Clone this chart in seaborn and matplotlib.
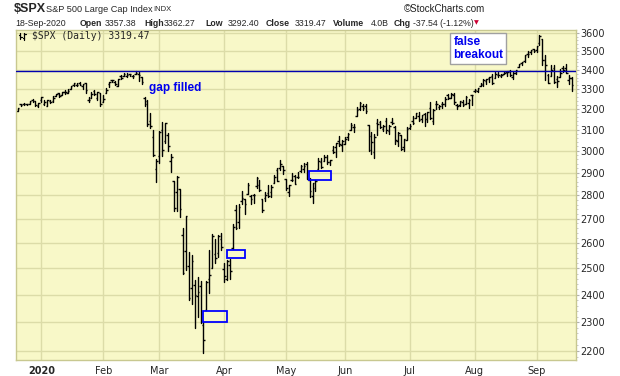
import matplotlib
matplotlib.use("Agg")
import matplotlib.pyplot as plt
from matplotlib.patches import Rectangle
from matplotlib.lines import Line2D
from matplotlib.ticker import FixedLocator, NullFormatter
import seaborn as sns
import pandas as pd
import numpy as np

# trading calendar (market holidays skipped)
holidays = ["2019-12-25", "2020-01-01", "2020-01-20", "2020-02-17",
            "2020-04-10", "2020-05-25", "2020-07-03", "2020-09-07"]
dates = pd.bdate_range("2019-12-19", "2020-09-18", freq="C", holidays=holidays)

# daily OHLC, $SPX, one row per month
opens = [
    3192.32, 3223.33, 3226.05, 3225.45, 3227.20, 3247.23, 3240.09, 3215.18,
    3244.67, 3226.36, 3217.55, 3241.86, 3238.59, 3266.03, 3281.81, 3271.13, 3285.35, 3282.27, 3302.97, 3323.66, 3321.03, 3330.02, 3315.77, 3333.10, 3247.16, 3255.35, 3289.46, 3256.45, 3282.33,
    3235.66, 3280.61, 3324.91, 3344.92, 3335.54, 3318.28, 3365.87, 3370.50, 3365.90, 3378.08, 3369.04, 3380.39, 3380.45, 3360.50, 3257.61, 3238.94, 3139.90, 3062.54, 2916.90,
    2974.28, 3096.46, 3045.75, 3075.70, 2954.20, 2863.89, 2813.48, 2825.60, 2630.86, 2569.99, 2508.59, 2425.66, 2436.50, 2393.48, 2431.94, 2290.71, 2344.44, 2457.77, 2501.29, 2555.87, 2558.98, 2614.69,
    2498.08, 2458.54, 2514.92, 2578.28, 2738.65, 2685.00, 2776.99, 2782.46, 2805.10, 2795.64, 2799.34, 2842.43, 2845.62, 2784.81, 2787.89, 2810.42, 2812.64, 2854.65, 2909.96, 2918.46, 2930.91,
    2869.09, 2815.01, 2868.88, 2883.14, 2878.26, 2908.83, 2915.46, 2939.50, 2865.86, 2794.54, 2829.95, 2913.86, 2948.59, 2953.63, 2969.95, 2948.05, 3004.08, 3015.65, 3046.61, 3025.17,
    3031.48, 3064.78, 3098.90, 3111.56, 3163.84, 3199.92, 3213.32, 3213.42, 3123.53, 3071.04, 2993.76, 3131.00, 3136.13, 3101.64, 3140.29, 3094.42, 3138.70, 3114.40, 3046.60, 3073.20, 3018.59, 3050.20,
    3105.92, 3143.64, 3155.29, 3166.44, 3153.07, 3176.17, 3152.47, 3205.08, 3141.11, 3225.98, 3208.36, 3224.21, 3224.29, 3268.52, 3254.86, 3271.64, 3218.58, 3219.84, 3234.27, 3227.22, 3231.76, 3270.45,
    3288.26, 3289.92, 3317.37, 3323.17, 3340.05, 3356.04, 3370.34, 3355.46, 3372.95, 3368.66, 3380.86, 3387.04, 3392.51, 3360.48, 3386.01, 3418.09, 3435.95, 3449.97, 3485.14, 3494.69, 3509.73,
    3507.44, 3543.76, 3564.74, 3453.60, 3371.88, 3369.82, 3412.56, 3352.70, 3363.56, 3407.73, 3411.23, 3346.86, 3357.38,
]
highs = [
    3205.48, 3225.65, 3227.78, 3226.43, 3240.08, 3247.93, 3240.92, 3231.72,
    3258.14, 3246.15, 3246.84, 3244.91, 3267.07, 3275.58, 3282.99, 3288.13, 3294.25, 3298.66, 3317.11, 3329.88, 3329.79, 3337.77, 3326.88, 3333.18, 3258.85, 3285.78, 3293.47, 3285.91, 3282.33,
    3268.44, 3306.92, 3337.58, 3347.96, 3341.42, 3352.26, 3375.63, 3381.47, 3385.09, 3380.69, 3375.01, 3393.52, 3389.15, 3360.76, 3259.81, 3246.99, 3182.51, 3097.07, 2959.72,
    3090.96, 3136.72, 3130.97, 3083.04, 2985.93, 2863.89, 2882.59, 2825.60, 2660.95, 2711.33, 2562.98, 2553.93, 2453.57, 2466.97, 2453.01, 2300.73, 2449.71, 2571.42, 2637.01, 2615.91, 2631.80, 2641.39,
    2522.75, 2533.22, 2538.18, 2676.85, 2756.89, 2760.75, 2818.57, 2782.46, 2851.85, 2801.88, 2806.51, 2879.22, 2868.98, 2785.54, 2815.10, 2844.90, 2842.71, 2887.72, 2921.15, 2954.86, 2930.91,
    2869.09, 2844.24, 2898.23, 2891.11, 2901.92, 2932.16, 2944.25, 2945.82, 2874.14, 2852.80, 2865.01, 2968.09, 2964.21, 2980.29, 2978.50, 2956.76, 3021.72, 3036.25, 3068.67, 3049.17,
    3062.18, 3081.07, 3130.94, 3128.91, 3211.72, 3233.13, 3222.71, 3223.27, 3123.53, 3088.42, 3079.76, 3153.45, 3141.16, 3120.00, 3155.53, 3120.92, 3154.90, 3115.01, 3086.25, 3073.73, 3053.89, 3111.51,
    3128.44, 3165.81, 3182.59, 3184.15, 3171.80, 3179.78, 3186.82, 3235.32, 3200.95, 3238.28, 3220.39, 3233.52, 3258.61, 3277.29, 3279.32, 3279.99, 3227.26, 3241.43, 3243.72, 3264.74, 3250.92, 3272.17,
    3302.73, 3306.84, 3330.77, 3351.03, 3352.54, 3363.29, 3381.01, 3387.89, 3387.24, 3378.51, 3387.59, 3395.06, 3399.54, 3390.80, 3399.96, 3432.09, 3444.21, 3481.07, 3501.38, 3509.23, 3514.77,
    3528.03, 3588.11, 3564.85, 3479.15, 3379.97, 3424.77, 3425.55, 3368.95, 3402.93, 3419.48, 3428.92, 3375.17, 3362.27,
]
lows = [
    3192.32, 3216.03, 3222.30, 3220.51, 3227.20, 3234.37, 3216.57, 3212.03,
    3235.53, 3222.34, 3214.64, 3232.43, 3236.67, 3263.67, 3260.86, 3268.43, 3277.19, 3280.69, 3302.82, 3318.86, 3316.61, 3320.04, 3301.87, 3281.53, 3234.50, 3253.22, 3271.89, 3242.80, 3214.68,
    3235.66, 3280.61, 3313.75, 3334.39, 3322.12, 3317.77, 3352.72, 3369.72, 3360.52, 3366.15, 3355.61, 3378.83, 3341.02, 3328.45, 3214.65, 3118.77, 3108.99, 2977.39, 2855.84,
    2945.19, 2976.63, 3034.38, 2999.83, 2901.54, 2734.43, 2734.00, 2707.22, 2478.86, 2492.37, 2380.94, 2367.04, 2280.52, 2319.78, 2295.56, 2191.86, 2344.44, 2407.53, 2500.72, 2520.02, 2545.28, 2571.15,
    2447.49, 2455.79, 2459.96, 2574.57, 2657.67, 2663.30, 2762.36, 2721.17, 2805.10, 2761.54, 2764.32, 2830.88, 2820.43, 2727.10, 2775.95, 2794.26, 2791.76, 2852.89, 2860.71, 2912.16, 2892.47,
    2821.61, 2797.85, 2863.55, 2847.65, 2876.48, 2902.88, 2903.44, 2869.59, 2793.15, 2766.64, 2816.78, 2913.86, 2922.35, 2953.63, 2938.57, 2933.59, 2988.17, 2969.75, 3023.40, 2998.61,
    3031.48, 3051.64, 3098.90, 3090.41, 3163.84, 3196.00, 3193.11, 3181.49, 2999.49, 2984.47, 2965.66, 3076.06, 3108.03, 3093.51, 3083.11, 3079.39, 3127.12, 3032.13, 3024.01, 3004.63, 2999.74, 3047.83,
    3101.17, 3124.52, 3155.29, 3142.93, 3136.53, 3115.70, 3136.22, 3149.43, 3127.66, 3200.76, 3198.59, 3205.65, 3215.16, 3247.77, 3253.10, 3222.66, 3200.05, 3214.25, 3216.17, 3227.22, 3204.13, 3220.26,
    3284.53, 3286.37, 3317.37, 3318.14, 3328.72, 3335.44, 3326.44, 3355.46, 3363.35, 3361.64, 3379.22, 3370.15, 3369.66, 3354.69, 3379.31, 3413.13, 3425.84, 3444.15, 3468.35, 3484.32, 3493.25,
    3494.60, 3535.23, 3427.41, 3349.63, 3329.27, 3366.84, 3329.25, 3310.47, 3363.56, 3389.25, 3384.45, 3328.82, 3292.40,
]
closes = [
    3205.37, 3221.22, 3224.01, 3223.38, 3239.91, 3240.02, 3221.29, 3230.78,
    3257.85, 3234.85, 3246.28, 3237.18, 3253.05, 3274.70, 3265.35, 3288.13, 3283.15, 3289.29, 3316.81, 3329.62, 3320.79, 3321.75, 3325.54, 3295.47, 3243.63, 3276.24, 3273.40, 3283.66, 3225.52,
    3248.92, 3297.59, 3334.69, 3345.78, 3327.71, 3352.09, 3357.75, 3379.45, 3373.94, 3380.16, 3370.29, 3386.15, 3373.23, 3337.75, 3225.89, 3128.21, 3116.39, 2978.76, 2954.22,
    3090.23, 3003.37, 3130.12, 3023.94, 2972.37, 2746.56, 2882.23, 2741.38, 2480.64, 2711.02, 2386.13, 2529.19, 2398.10, 2409.39, 2304.92, 2237.40, 2447.33, 2475.56, 2630.07, 2541.47, 2626.65, 2584.59,
    2470.50, 2526.90, 2488.65, 2663.68, 2659.41, 2749.98, 2789.82, 2761.63, 2846.06, 2783.36, 2799.55, 2874.56, 2823.16, 2736.56, 2799.31, 2797.80, 2836.74, 2878.48, 2863.39, 2939.51, 2912.43,
    2830.71, 2842.74, 2868.44, 2848.42, 2881.19, 2929.80, 2930.32, 2870.12, 2820.00, 2852.50, 2863.70, 2953.91, 2922.94, 2971.61, 2948.51, 2955.45, 2991.77, 3036.13, 3029.73, 3044.31,
    3055.73, 3080.82, 3122.87, 3112.35, 3193.93, 3232.39, 3207.18, 3190.14, 3002.10, 3041.31, 3066.59, 3124.74, 3113.49, 3115.34, 3097.74, 3117.86, 3131.29, 3050.33, 3083.76, 3009.05, 3053.24, 3100.29,
    3115.86, 3130.01, 3179.72, 3145.32, 3169.94, 3152.05, 3185.04, 3155.22, 3197.52, 3226.56, 3215.57, 3224.73, 3251.84, 3257.30, 3276.02, 3235.66, 3215.63, 3239.41, 3218.44, 3258.44, 3246.22, 3271.12,
    3294.61, 3306.51, 3327.77, 3349.16, 3351.28, 3360.47, 3333.69, 3380.35, 3373.43, 3372.85, 3381.99, 3389.78, 3374.85, 3385.51, 3397.16, 3431.28, 3443.62, 3478.73, 3484.55, 3508.01, 3500.31,
    3526.65, 3580.84, 3455.06, 3426.96, 3331.84, 3398.96, 3339.19, 3340.97, 3383.54, 3401.20, 3385.49, 3357.01, 3319.47,
]

y_ticks = list(range(2200, 3700, 100))
resistance = 3393.52  # Feb 19 high

df = pd.DataFrame({"date": dates, "open": opens, "high": highs,
                   "low": lows, "close": closes})
df["x"] = np.arange(len(df))

# long form: each day's high-low bar is one seaborn "unit"
bars = pd.concat([
    pd.DataFrame({"x": df["x"], "price": df["low"], "day": df["x"]}),
    pd.DataFrame({"x": df["x"], "price": df["high"], "day": df["x"]}),
])

# first trading day of each month -> x gridlines / labels
new_month = df["date"].dt.month != df["date"].dt.month.shift()
month_pos = df.loc[new_month & (df["x"] > 0), "x"].tolist()
month_lab = ["2020" if d.month == 1 else d.strftime("%b")
             for d in df.loc[new_month & (df["x"] > 0), "date"]]

sns.set_style("white")
plt.rcParams["font.family"] = ["DejaVu Sans"]

W, H = 620, 376
fig = plt.figure(figsize=(W / 100, H / 100), dpi=100)
fig.patch.set_facecolor("white")
ax = fig.add_axes([16 / W, 1 - 360 / H, 560 / W, 330 / H])
ax.set_facecolor("#f8f8c8")
ax.set_yscale("log")

grid_c = "#dcdca8"
for yv in y_ticks:
    ax.axhline(yv, color=grid_c, lw=1, zorder=0)
for xv in month_pos:
    ax.axvline(xv, color=grid_c, lw=1, zorder=0)

sns.lineplot(data=bars, x="x", y="price", units="day", estimator=None,
             sort=False, color="black", lw=1.0, ax=ax, legend=False)
ax.hlines(df["open"], df["x"] - 0.55, df["x"], color="black", lw=1.0)
ax.hlines(df["close"], df["x"], df["x"] + 0.55, color="black", lw=1.0)

ax.axhline(resistance, color="#0000b0", lw=1.0, zorder=3)

# gap boxes
for x0, x1, y0, y1 in [(62.8, 70.9, 2300, 2340),
                       (70.9, 77.0, 2540, 2573),
                       (98.8, 106.3, 2868, 2905)]:
    ax.add_patch(Rectangle((x0, y0), x1 - x0, y1 - y0, fill=False,
                           ec="#0000ff", lw=1.3, zorder=4))

ax.text(44.4, 3306, "gap filled", color="#0000ee", fontsize=8.5,
        fontweight="bold", family="Liberation Sans", va="center")
ax.text(147.8, 3515, "false\nbreakout", color="#0000ee", fontsize=8.5,
        fontweight="bold", family="Liberation Sans", va="center",
        linespacing=1.15,
        bbox=dict(boxstyle="square,pad=0.25", fc="white", ec="#a0a0a0", lw=1))

ax.set_xlim(-0.6, 189.4)
ax.set_ylim(2169, 3617)
ax.set_xlabel("")
ax.set_ylabel("")

ax.yaxis.tick_right()
ax.yaxis.set_major_locator(FixedLocator(y_ticks))
ax.yaxis.set_major_formatter(plt.FixedFormatter([str(v) for v in y_ticks]))
ax.yaxis.set_minor_locator(FixedLocator([v for v in range(2180, 3620, 20) if v % 100]))
ax.yaxis.set_minor_formatter(NullFormatter())
ax.tick_params(axis="y", which="major", length=2, pad=1, labelsize=7,
               color="#b0b0b0", right=True, left=False)
ax.tick_params(axis="y", which="minor", length=1.5, color="#c0c0c0",
               right=True, left=False)

ax.xaxis.set_major_locator(FixedLocator(month_pos))
ax.set_xticklabels(month_lab)
ax.xaxis.set_minor_locator(FixedLocator([]))
ax.tick_params(axis="x", length=2, pad=2, labelsize=7, color="#c8c8c8")
ax.get_xticklabels()[0].set_fontweight("bold")

for s in ax.spines.values():
    s.set_color("#c8c890")
    s.set_linewidth(1)
    s.set_visible(True)

# header
def px(x, y):
    return x / W, 1 - y / H

hf = "Liberation Sans"
fig.text(*px(14, 9), "$SPX", fontsize=9, fontweight="bold", family=hf, va="center")
fig.text(*px(46, 9), "S&P 500 Large Cap Index", fontsize=6.6, family=hf, va="center")
fig.text(*px(153, 9.5), "INDX", fontsize=5.5, family=hf, va="center")
fig.text(*px(485, 9), "\u00a9StockCharts.com", fontsize=7, family=hf,
         va="center", ha="right", color="#202020")

line2 = [(15, "18-Sep-2020", "normal"), (80, "Open", "bold"), (105, "3357.38", "normal"),
         (144, "High", "bold"), (164, "3362.27", "normal"), (205, "Low", "bold"),
         (228, "3292.40", "normal"), (266, "Close", "bold"), (295, "3319.47", "normal"),
         (333, "Volume", "bold"), (371, "4.0B", "normal"), (394, "Chg", "bold"),
         (413, "-37.54 (-1.12%)", "normal")]
for xx, t, w in line2:
    fig.text(*px(xx, 23), t, fontsize=6.3, fontweight=w, family=hf, va="center")
fig.text(*px(474, 23), "\u25bc", fontsize=4.5, color="#cc0033", va="center")

# legend line inside the chart
fig.text(*px(32, 36), "$SPX (Daily) 3319.47", fontsize=7, family="DejaVu Sans Mono",
         va="center")
for x0, yy in [(20, (33, 39, 35, 37)), (24, (33, 40, 38, 34))]:
    fig.add_artist(Line2D([x0 / W, x0 / W], [1 - yy[0] / H, 1 - yy[1] / H], color="black", lw=0.9))
    fig.add_artist(Line2D([(x0 - 1.5) / W, x0 / W], [1 - yy[2] / H] * 2, color="black", lw=0.9))
    fig.add_artist(Line2D([x0 / W, (x0 + 1.5) / W], [1 - yy[3] / H] * 2, color="black", lw=0.9))

fig.savefig("out.png", dpi=100, facecolor="white")
